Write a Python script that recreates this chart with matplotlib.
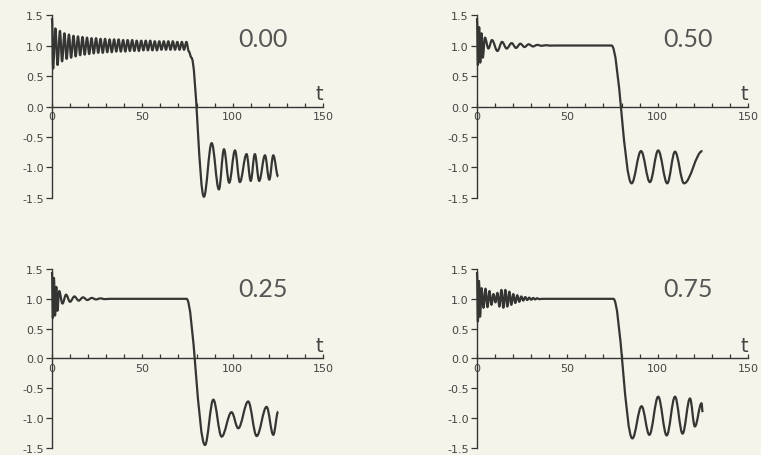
import matplotlib
matplotlib.use("Agg")
import matplotlib.pyplot as plt
from matplotlib.path import Path
from matplotlib.patches import PathPatch
from matplotlib.ticker import MultipleLocator

# extrema of each curve (t, value)
t_000 = [0, 0.6, 1.9, 3.1, 4.4, 5.6, 6.9, 8.1, 9.4, 10.6, 11.9, 13.1, 14.4, 15.6,
         16.9, 18.1, 19.4, 20.6, 21.9, 23.1, 24.4, 25.6, 26.9, 28.1, 29.4, 30.6,
         31.9, 33.1, 34.4, 35.6, 36.9, 38.1, 39.4, 40.6, 41.9, 43.1, 44.4, 45.6,
         46.9, 48.1, 49.4, 50.6, 51.9, 53.1, 54.4, 55.6, 56.9, 58.1, 59.4, 60.6,
         61.9, 63.1, 64.4, 65.6, 66.9, 68.1, 69.4, 70.6, 71.9, 73.1, 74.4, 75.8,
         77.2, 84.1, 88.4, 92.4, 95.2, 98.1, 101.3, 104.0, 107.7, 110.0, 112.3,
         114.7, 117.9, 120.3, 122.5, 125.2]
y_000 = [1.45, 0.62, 1.28, 0.68, 1.24, 0.74, 1.20, 0.78, 1.18, 0.80, 1.16, 0.82,
         1.15, 0.84, 1.14, 0.85, 1.13, 0.86, 1.12, 0.87, 1.12, 0.88, 1.11, 0.88,
         1.11, 0.89, 1.10, 0.89, 1.10, 0.90, 1.10, 0.90, 1.09, 0.90, 1.09, 0.91,
         1.09, 0.91, 1.08, 0.91, 1.08, 0.92, 1.08, 0.92, 1.08, 0.92, 1.07, 0.92,
         1.07, 0.93, 1.07, 0.93, 1.07, 0.93, 1.07, 0.93, 1.06, 0.93, 1.06, 0.93,
         1.06, 0.90, 0.80, -1.48, -0.60, -1.36, -0.70, -1.25, -0.72, -1.24, -0.78,
         -1.22, -0.78, -1.22, -0.80, -1.20, -0.80, -1.15]

t_050 = [0, 0.5, 1.2, 1.8, 2.5, 3.2, 4.4, 6.3, 8.3, 11.3, 13.9, 16.4, 19.2, 21.6,
         24.0, 26.3, 28.6, 31.0, 33.4, 35.8, 38.2, 40.6, 43.0, 74.5, 85.6, 90.8,
         95.7, 100.3, 105.3, 109.6, 114.6, 124.8]
y_050 = [1.45, 0.68, 1.30, 0.72, 1.20, 0.80, 1.13, 0.95, 1.09, 0.91, 1.06, 0.95,
         1.04, 0.96, 1.03, 0.975, 1.02, 0.985, 1.01, 0.995, 1.005, 0.998, 1.0, 1.0,
         -1.26, -0.73, -1.24, -0.72, -1.26, -0.74, -1.26, -0.73]

t_025 = [0, 0.5, 1.1, 1.7, 2.4, 3.0, 4.0, 5.8, 7.8, 10.0, 12.4, 14.8, 17.2, 19.6,
         22.0, 24.4, 26.8, 29.2, 32.0, 74.5, 84.7, 89.3, 93.9, 99.4, 103.1, 108.6,
         113.3, 118.8, 122.5, 125.2]
y_025 = [1.45, 0.68, 1.35, 0.72, 1.20, 0.80, 1.13, 0.92, 1.07, 0.95, 1.04, 0.97,
         1.025, 0.98, 1.015, 0.99, 1.008, 0.995, 1.0, 1.0, -1.45, -0.69, -1.31,
         -0.90, -1.17, -0.72, -1.30, -0.81, -1.28, -0.89]

t_075 = [0, 0.5, 1.1, 1.7, 2.5, 3.6, 4.7, 5.8, 6.9, 8.0, 9.1, 10.2, 11.3, 12.4,
         13.5, 14.6, 15.7, 16.8, 17.9, 19.0, 20.1, 21.2, 22.3, 23.4, 24.5, 25.6,
         26.7, 27.8, 28.9, 30.0, 31.1, 32.2, 33.3, 34.4, 36.0, 75.5, 86.0, 91.1,
         95.4, 100.3, 105.0, 109.6, 113.8, 117.9, 120.6, 124.3, 124.9]
y_075 = [1.45, 0.62, 1.30, 0.70, 1.18, 0.85, 1.17, 0.86, 1.13, 0.90, 1.08, 0.94,
         1.10, 0.87, 1.15, 0.85, 1.15, 0.87, 1.12, 0.90, 1.08, 0.93, 1.06, 0.95,
         1.04, 0.97, 1.03, 0.98, 1.02, 0.985, 1.015, 0.99, 1.01, 0.995, 1.0, 1.0,
         -1.34, -0.80, -1.28, -0.64, -1.29, -0.64, -1.26, -0.67, -1.14, -0.75,
         -0.90]

panel_labels = ["0.00", "0.50", "0.25", "0.75"]
xticks = [0, 50, 100, 150]
yticks = [-1.5, -1.0, -0.5, 0.0, 0.5, 1.0, 1.5]

bg = "#f4f4ea"
ink = "#353533"


def smooth_path(t, y, k=0.36):
    # cubic pieces with flat tangents at each extremum
    verts = [(t[0], y[0])]
    codes = [Path.MOVETO]
    for i in range(len(t) - 1):
        dt = t[i + 1] - t[i]
        verts += [(t[i] + k * dt, y[i]), (t[i + 1] - k * dt, y[i + 1]),
                  (t[i + 1], y[i + 1])]
        codes += [Path.CURVE4] * 3
    return Path(verts, codes)


fig = plt.figure(figsize=(7.61, 4.56), dpi=100)
fig.patch.set_facecolor(bg)

boxes = [[0.0683, 0.5636, 0.3561, 0.4013],
         [0.6268, 0.5636, 0.3561, 0.4013],
         [0.0683, 0.0154, 0.3561, 0.3925],
         [0.6268, 0.0154, 0.3561, 0.3925]]
series = [(t_000, y_000), (t_050, y_050), (t_025, y_025), (t_075, y_075)]
label_y = [1.12, 1.12, 1.18, 1.18]

for box, (t, y), lab, ly in zip(boxes, series, panel_labels, label_y):
    ax = fig.add_axes(box)
    ax.set_facecolor("none")
    ax.set_xlim(0, 150)
    ax.set_ylim(-1.5, 1.5)
    ax.add_patch(PathPatch(smooth_path(t, y), fill=False, edgecolor=ink,
                           lw=1.6, clip_on=False, joinstyle="round"))

    for s in ["top", "right"]:
        ax.spines[s].set_visible(False)
    ax.spines["bottom"].set_position(("data", 0))
    ax.spines["bottom"].set_bounds(0, 150)
    ax.spines["left"].set_bounds(-1.5, 1.5)
    for s in ["bottom", "left"]:
        ax.spines[s].set_color(ink)
        ax.spines[s].set_linewidth(1.0)

    ax.set_xticks(xticks)
    ax.set_xticklabels([str(v) for v in xticks])
    ax.xaxis.set_minor_locator(MultipleLocator(10))
    ax.tick_params(axis="x", which="both", direction="in", length=3,
                   width=0.9, color=ink, labelsize=8, labelcolor="#444",
                   pad=3)
    ax.set_yticks(yticks)
    ax.set_yticklabels(["%.1f" % v for v in yticks])
    ax.tick_params(axis="y", direction="out", length=4, width=0.9,
                   color=ink, labelsize=8, labelcolor="#444", pad=2)

    ax.text(148, 0.06, "t", ha="center", va="bottom", fontsize=14,
            color="#444", family="DejaVu Sans")
    ax.text(117, ly, lab, ha="center", va="center", fontsize=18,
            color="#555555", family="Lato", fontweight="normal")

fig.savefig("out.png", dpi=100, facecolor=bg)
